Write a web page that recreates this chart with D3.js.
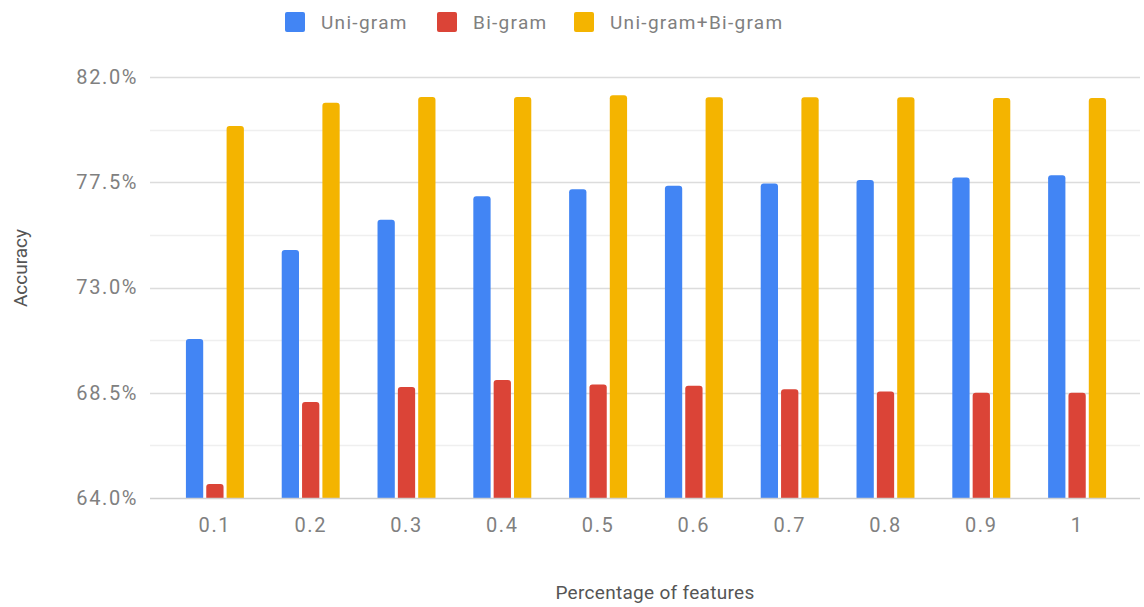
<!DOCTYPE html>
<html>
<head>
<meta charset="utf-8">
<script src="https://cdn.jsdelivr.net/npm/d3@7"></script>
<style>
  html, body { margin: 0; padding: 0; background: #fff; }
  svg { display: block; font-family: Roboto, "Noto Sans", sans-serif; }
</style>
</head>
<body>
<svg id="chart" width="1144" height="607"></svg>
<script>
const categories = ["0.1", "0.2", "0.3", "0.4", "0.5", "0.6", "0.7", "0.8", "0.9", "1"];
const seriesNames = ["Uni-gram", "Bi-gram", "Uni-gram+Bi-gram"];
const uniGram = [70.8, 74.6, 75.9, 76.9, 77.2, 77.35, 77.45, 77.6, 77.7, 77.8];
const biGram = [64.6, 68.1, 68.75, 69.05, 68.85, 68.8, 68.65, 68.55, 68.5, 68.5];
const uniBiGram = [79.9, 80.9, 81.15, 81.15, 81.22, 81.13, 81.13, 81.13, 81.1, 81.1];
const colors = ["#4285F4", "#DB4437", "#F4B400"];
const yTicks = [64.0, 68.5, 73.0, 77.5, 82.0];
const yMinorTicks = [66.25, 70.75, 75.25, 79.75];
const xTitle = "Percentage of features";
const yTitle = "Accuracy";

const seriesValues = [uniGram, biGram, uniBiGram];
const rows = categories.map((c, i) => ({
  cat: c,
  vals: seriesNames.map((s, k) => ({ key: s, value: seriesValues[k][i], color: colors[k] }))
}));

const svg = d3.select("#chart");
const gridLeft = 150, gridRight = 1140;
const x0 = d3.scaleBand().domain(categories).range([167, 1125]).paddingInner(0.395).paddingOuter(0.1975);
const x1 = d3.scaleBand().domain(seriesNames).range([0, x0.bandwidth()]).paddingInner(0.15);
const y = d3.scaleLinear().domain([64, 82]).range([498, 77]);

// minor gridlines
svg.append("g").selectAll("line").data(yMinorTicks).join("line")
  .attr("x1", gridLeft).attr("x2", gridRight)
  .attr("y1", d => Math.round(y(d)) + 0.5).attr("y2", d => Math.round(y(d)) + 0.5)
  .attr("stroke", "#efefef").attr("stroke-width", 1.5);

// major gridlines
svg.append("g").selectAll("line").data(yTicks.filter(d => d !== 64)).join("line")
  .attr("x1", gridLeft).attr("x2", gridRight)
  .attr("y1", d => Math.round(y(d)) + 0.5).attr("y2", d => Math.round(y(d)) + 0.5)
  .attr("stroke", "#dcdcdc").attr("stroke-width", 1.5);

// y axis labels
const yAxis = d3.axisLeft(y).tickValues(yTicks).tickFormat(d => d.toFixed(1) + "%").tickSize(0).tickPadding(0);
const yg = svg.append("g").attr("transform", `translate(138,0)`).call(yAxis);
yg.select(".domain").remove();
yg.selectAll("text").attr("fill", "#808080").attr("font-size", 20).attr("letter-spacing", "1.6px")
  .attr("font-family", "Roboto, sans-serif");

// bars with rounded tops
function barPath(xp, w, yTop, yBot, r) {
  r = Math.min(r, w / 2, (yBot - yTop));
  return `M${xp},${yBot}V${yTop + r}Q${xp},${yTop} ${xp + r},${yTop}H${xp + w - r}Q${xp + w},${yTop} ${xp + w},${yTop + r}V${yBot}Z`;
}

const groups = svg.append("g").selectAll("g").data(rows).join("g")
  .attr("transform", d => `translate(${x0(d.cat)},0)`);
groups.selectAll("path").data(d => d.vals).join("path")
  .attr("d", d => barPath(x1(d.key), x1.bandwidth(), y(d.value), y(64), 3))
  .attr("fill", d => d.color);

// baseline
svg.append("line")
  .attr("x1", gridLeft).attr("x2", gridRight)
  .attr("y1", Math.round(y(64)) + 0.5).attr("y2", Math.round(y(64)) + 0.5)
  .attr("stroke", "#cfcfcf").attr("stroke-width", 1.5);

// x axis labels
const xAxis = d3.axisBottom(d3.scaleBand().domain(categories).range(x0.range()).paddingInner(0.395).paddingOuter(0.1975))
  .tickSize(0).tickPadding(0);
const xg = svg.append("g").attr("transform", `translate(0,${y(64) + 20})`).call(xAxis);
xg.select(".domain").remove();
xg.selectAll("text").attr("fill", "#808080").attr("font-size", 20).attr("letter-spacing", "1.6px")
  .attr("font-family", "Roboto, sans-serif");

// axis titles
svg.append("text").attr("x", 655).attr("y", 599).attr("text-anchor", "middle")
  .attr("fill", "#555").attr("font-size", 19).attr("letter-spacing", "0.3px").text(xTitle);
svg.append("text").attr("transform", "translate(27,268) rotate(-90)").attr("text-anchor", "middle")
  .attr("fill", "#555").attr("font-size", 19).text(yTitle);

// legend
const legendX = [285, 437, 574];
const lg = svg.append("g").selectAll("g").data(seriesNames).join("g")
  .attr("transform", (d, i) => `translate(${legendX[i]},12)`);
lg.append("rect").attr("width", 20).attr("height", 20).attr("rx", 2).attr("fill", (d, i) => colors[i]);
lg.append("text").attr("x", 36).attr("y", 17).attr("fill", "#808080").attr("font-size", 19)
  .attr("letter-spacing", "1.3px").text(d => d);
</script>
</body>
</html>
